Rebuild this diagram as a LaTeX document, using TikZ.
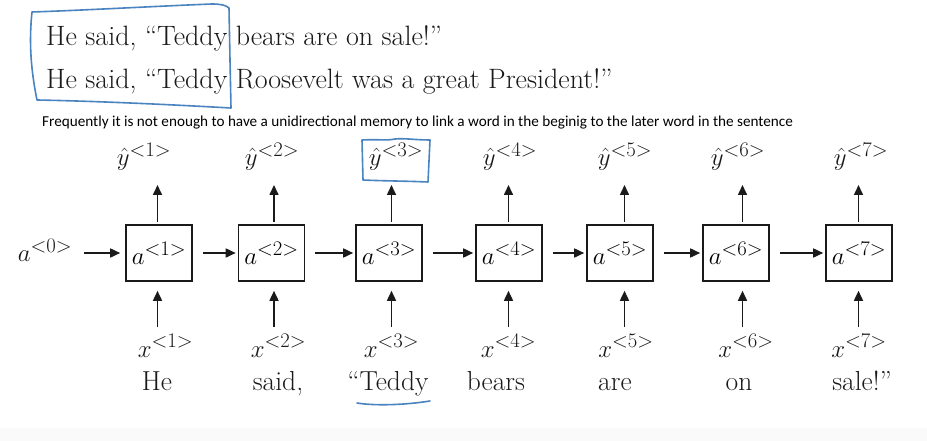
\documentclass[tikz,border=0pt]{standalone}
\usepackage{fontspec}
\newfontfamily\calib{Carlito}
\usetikzlibrary{arrows.meta}
\definecolor{hlblue}{HTML}{4A84C0}
\definecolor{ink}{HTML}{1A1A1A}
\begin{document}
\begin{tikzpicture}[x=1pt,y=-1pt,
  cell/.style={draw=ink, line width=1.6pt, minimum width=66pt, minimum height=56pt, inner sep=0pt, font=\fontsize{27.5}{30}\selectfont},
  mlabel/.style={inner sep=0pt, text=ink, font=\fontsize{27.5}{30}\selectfont},
  word/.style={inner sep=0pt, text=ink, anchor=base, font=\fontsize{27.5}{30}\selectfont},
  sent/.style={inner sep=0pt, text=ink, anchor=base west, font=\fontsize{28}{30}\selectfont},
  arr/.style={draw=ink, line width=1.6pt, -{Triangle[length=10pt,width=9pt]}},
  hl/.style={draw=hlblue, line width=1.6pt, line join=round, line cap=round}]
\useasboundingbox (0,0) rectangle (927,441);
\fill[white] (0,0) rectangle (927,441);
\fill[gray!4] (0,428) rectangle (927,441);

% top sentences
\node[sent] (s1) at (46,46) {He said, “Teddy bears are on sale!”};
\node[sent] (s2) at (46,89) {He said, “Teddy Roosevelt was a great President!”};
\draw[hl] (32,12) .. controls (90,10) and (160,6) .. (212,4)
  .. controls (220,4) and (226,5) .. (229,8)
  -- (230,60) -- (231,108)
  .. controls (160,104) and (90,101) .. (37,100)
  .. controls (33,80) and (28,50) .. (32,12) -- cycle;

% caption
\node[inner sep=0pt, anchor=base west, text=black, font=\calib\fontsize{15.2}{17}\selectfont] (cap) at (42,127)
  {Frequently it is not enough to have a unidirectional memory to link a word in the beginig to the later word in the sentence};

% cells
\node[cell] (b1) at (159,253) {$a^{<1>}$};
\node[cell] (b2) at (271.5,253) {$a^{<2>}$};
\node[cell] (b3) at (389,253) {$a^{<3>}$};
\node[cell] (b4) at (509,253) {$a^{<4>}$};
\node[cell] (b5) at (620,253) {$a^{<5>}$};
\node[cell] (b6) at (736,253) {$a^{<6>}$};
\node[cell] (b7) at (859,253) {$a^{<7>}$};
\node[mlabel] (a0) at (45,250) {$a^{<0>}$};

% horizontal arrows
\draw[arr, shorten <=12pt, shorten >=5pt] (a0.east |- b1.west) -- (b1.west);
\foreach \i/\j in {1/2,2/3,3/4,4/5,5/6,6/7}
  \draw[arr, shorten <=10pt, shorten >=2pt] (b\i.east) -- (b\j.west);

% outputs and inputs
\foreach \i/\ax/\yx/\xx/\wx/\w in {1/157.5/144/165.5/157/He, 2/274/272/278.5/278/{said,}, 3/391.5/396/391.5/388/“Teddy, 4/508.5/510/508.5/496/bears, 5/624.5/625/626/615/are, 6/742.5/738/746/739/on, 7/858.5/861/859/862/sale!”}{
  \coordinate (t\i) at (\ax,185);
  \coordinate (s\i) at (\ax,327);
  \node[mlabel, anchor=base] (y\i) at (\yx,166) {$\hat{y}^{<\i>}$};
  \node[mlabel, anchor=base] (x\i) at (\xx,357) {$x^{<\i>}$};
  \node[word] (w\i) at (\wx,390) {\w};
  \draw[arr, shorten <=2pt] (b\i.north -| t\i) -- (t\i);
  \draw[arr, shorten >=9pt] (s\i) -- (b\i.south -| s\i);
}

% highlights
\draw[hl] (362,140) .. controls (380,139) and (385,141) .. (395,139)
  .. controls (405,138) and (415,140) .. (430,140)
  -- (428,182) .. controls (405,181) and (385,181) .. (363,180) -- cycle;
\draw[hl] (357,403) .. controls (375,406) and (405,405) .. (430,401);
\end{tikzpicture}
\end{document}
